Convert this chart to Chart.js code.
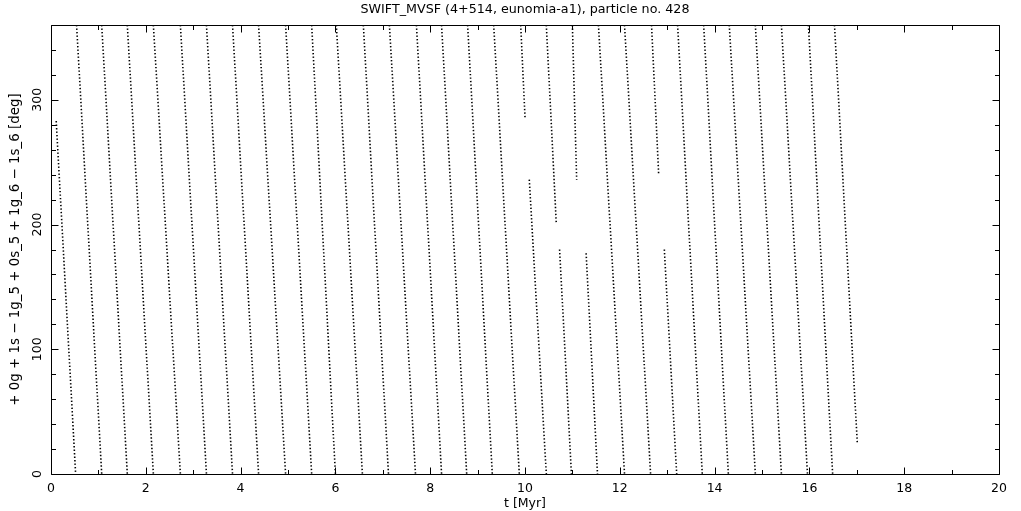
<!DOCTYPE html>
<html lang="en">
<head>
<meta charset="UTF-8">
<title>SWIFT_MVSF particle 428</title>
<script src="https://cdn.jsdelivr.net/npm/chart.js"></script>
<style>
    html, body { margin: 0; padding: 0; background: #fff; }
    .container { width: 1021px; height: 511px; }
</style>
</head>
<body>
<div class="container">
    <canvas id="myChart"></canvas>
</div>
<script>
// each streak of the resonant angle: (startT, startA) -> (endT, endA)
// t in Myr, angle in deg; split streaks are where the output has holes
const startT = [0.11, 0.54, 1.07, 1.61, 2.16, 2.73, 3.28, 3.83, 4.38, 4.95, 5.50, 6.02, 6.59, 7.14, 7.71, 8.24, 8.79, 9.34,
    9.91, 10.09, 10.45, 10.73, 11.00, 11.29, 11.55, 12.10, 12.67, 12.94, 13.22, 13.77, 14.31, 14.86, 15.41, 15.98, 16.53];
const startA = [283, 360, 360, 360, 360, 360, 360, 360, 360, 360, 360, 360, 360, 360, 360, 360, 360, 360,
    360, 236, 360, 180, 360, 177, 360, 360, 360, 180, 360, 360, 360, 360, 360, 360, 360];
const endT = [0.52, 1.07, 1.61, 2.16, 2.73, 3.28, 3.83, 4.38, 4.95, 5.50, 6.00, 6.57, 7.12, 7.69, 8.24, 8.77, 9.31, 9.88,
    10.00, 10.45, 10.66, 10.98, 11.09, 11.53, 12.10, 12.65, 12.82, 13.20, 13.74, 14.29, 14.86, 15.41, 15.96, 16.49, 17.01];
const endA = [0, 0, 0, 0, 0, 0, 0, 0, 0, 0, 0, 0, 0, 0, 0, 0, 0, 0,
    286, 0, 201, 0, 236, 0, 0, 0, 240, 0, 0, 0, 0, 0, 0, 0, 25];

const xLabels = [0, 2, 4, 6, 8, 10, 12, 14, 16, 18, 20];
const yLabels = [0, 100, 200, 300];

const FONT = 'DejaVu Sans';

const datasets = startT.map((t0, i) => ({
    data: [{ x: t0, y: startA[i] }, { x: endT[i], y: endA[i] }],
    showLine: true,
    borderColor: '#000',
    borderWidth: 1.6,
    borderDash: [1.4, 2.1],
    pointRadius: 0
}));

// inward ticks on all four sides, full frame and title
const framePlugin = {
    id: 'frame',
    afterDraw(chart) {
        const ctx = chart.ctx;
        const { left, right, top, bottom } = chart.chartArea;
        const xs = chart.scales.x, ys = chart.scales.y;
        const a = v => Math.round(v) + 0.5;
        ctx.save();
        ctx.strokeStyle = '#000';
        ctx.lineWidth = 1;
        ctx.beginPath();
        ctx.rect(a(left), a(top), Math.round(right) - Math.round(left), Math.round(bottom) - Math.round(top));
        xs.ticks.forEach(tk => {
            const px = a(xs.getPixelForValue(tk.value));
            const len = xLabels.includes(tk.value) ? 7 : 4.5;
            ctx.moveTo(px, a(bottom)); ctx.lineTo(px, a(bottom) - len);
            ctx.moveTo(px, a(top)); ctx.lineTo(px, a(top) + len);
        });
        ys.ticks.forEach(tk => {
            const py = a(ys.getPixelForValue(tk.value));
            const len = yLabels.includes(tk.value) ? 7 : 4.5;
            ctx.moveTo(a(left), py); ctx.lineTo(a(left) + len, py);
            ctx.moveTo(a(right), py); ctx.lineTo(a(right) - len, py);
        });
        ctx.stroke();

        ctx.fillStyle = '#000';
        ctx.font = '12.7px "' + FONT + '"';
        ctx.textAlign = 'center';
        ctx.textBaseline = 'middle';
        ctx.fillText('SWIFT_MVSF (4+514, eunomia-a1), particle no. 428', (left + right) / 2, 10);
        ctx.restore();
    }
};

const ctx = document.getElementById('myChart').getContext('2d');
const myChart = new Chart(ctx, {
    type: 'scatter',
    data: { datasets: datasets },
    options: {
        responsive: true,
        maintainAspectRatio: false,
        animation: false,
        layout: { padding: { top: 25, right: 22, left: 0, bottom: 0 } },
        plugins: {
            legend: { display: false },
            tooltip: { enabled: false }
        },
        scales: {
            x: {
                type: 'linear',
                min: 0,
                max: 20,
                grid: { display: false, drawTicks: false },
                border: { display: false },
                ticks: {
                    stepSize: 1,
                    autoSkip: false,
                    maxRotation: 0,
                    padding: 7,
                    color: '#000',
                    font: { family: FONT, size: 12.5 },
                    callback: v => xLabels.includes(v) ? String(v) : ''
                },
                title: {
                    display: true,
                    text: 't [Myr]',
                    color: '#000',
                    font: { family: FONT, size: 12.5 },
                    padding: { top: 0, bottom: 0 }
                },
                afterFit: s => { s.height = 37; }
            },
            y: {
                type: 'linear',
                min: 0,
                max: 360,
                grid: { display: false, drawTicks: false },
                border: { display: false },
                ticks: {
                    stepSize: 20,
                    autoSkip: false,
                    minRotation: 90,
                    maxRotation: 90,
                    crossAlign: 'center',
                    padding: 1,
                    color: '#000',
                    font: { family: FONT, size: 12.5 },
                    callback: v => yLabels.includes(v) ? String(v) : ''
                },
                title: {
                    display: true,
                    text: '+ 0g + 1s \u2212 1g_5 + 0s_5 + 1g_6 \u2212 1s_6 [deg]',
                    color: '#000',
                    font: { family: FONT, size: 13.4 },
                    padding: { top: 7, bottom: 0 }
                },
                afterFit: s => { s.width = 51; }
            }
        }
    },
    plugins: [framePlugin]
});
</script>
</body>
</html>
